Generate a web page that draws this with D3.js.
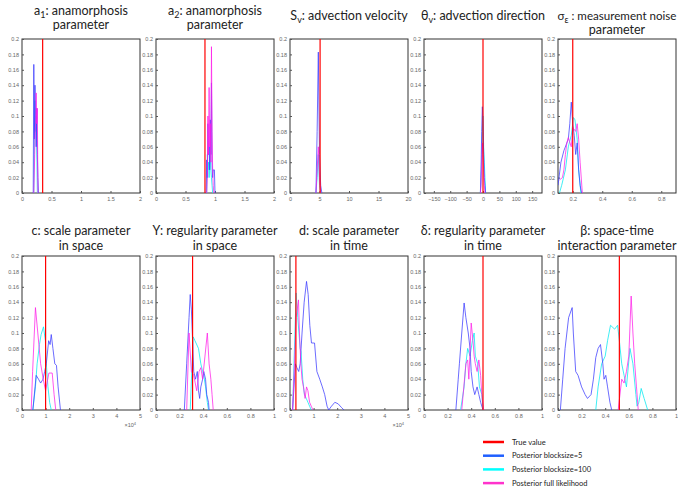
<!DOCTYPE html>
<html lang="en">
<head>
<meta charset="UTF-8">
<title>Posterior distributions</title>
<script src="https://cdn.jsdelivr.net/npm/d3@7"></script>
<style>
  body { margin: 0; background: #fff; }
  .axis text { font-family: 'Liberation Sans', Arial, sans-serif; font-size: 5.5px; fill: #666; }
  .axis line { stroke: #555; }
  .axis path { display: none; }
  .title { font-family: Lato, 'Open Sans', sans-serif; font-size: 12.5px; fill: #222; text-anchor: middle; }
  .legend text { font-family: Lato, 'Open Sans', sans-serif; font-size: 7.5px; fill: #222; }
</style>
</head>
<body>
<svg id="img" width="678" height="487"></svg>
<script>
// ---- data: [x, density] pairs ----
var a1Blue = [[0.19,0],[0.2,0.167],[0.21,0.07],[0.22,0.14],[0.23,0.1],[0.24,0.06],[0.25,0.11],[0.26,0.05],[0.27,0.02],[0.28,0]];
var a1Cyan = [[0.2,0],[0.21,0.05],[0.22,0.12],[0.23,0.08],[0.24,0.1],[0.25,0.06],[0.26,0]];
var a1Mag  = [[0.2,0],[0.21,0.03],[0.22,0.07],[0.23,0.09],[0.24,0.13],[0.25,0.09],[0.26,0.11],[0.27,0]];

var a2Blue = [[0.85,0],[0.86,0.043],[0.87,0.02],[0.88,0.09],[0.89,0.05],[0.9,0.06],[0.91,0.03],[0.92,0.095],[0.93,0.05],[0.94,0.143],[0.95,0.04],[0.96,0.02],[0.97,0.03],[0.98,0.03],[0.99,0.03],[1.0,0]];
var a2Cyan = [[0.86,0],[0.87,0.05],[0.88,0.03],[0.89,0.04],[0.9,0.02],[0.91,0.035],[0.92,0.05],[0.93,0.03],[0.94,0.02],[0.95,0.01],[0.96,0]];
var a2Mag  = [[0.86,0],[0.87,0.02],[0.88,0.1],[0.89,0.05],[0.9,0.137],[0.91,0.06],[0.92,0.09],[0.93,0.04],[0.94,0.19],[0.95,0.08],[0.96,0.03],[0.97,0.01],[0.98,0]];

var svBlue = [[4.4,0],[4.6,0.08],[4.8,0.183],[5.0,0.05],[5.2,0.01],[5.4,0]];
var svCyan = [[4.4,0],[4.6,0.02],[4.8,0.05],[5.0,0.01],[5.2,0]];
var svMag  = [[4.4,0],[4.6,0.03],[4.8,0.06],[5.0,0.02],[5.2,0]];

var thBlue = [[-8,0],[-6,0.03],[-4,0.08],[-2,0.112],[0,0.09],[2,0.05],[4,0.02],[6,0.01],[8,0]];
var thCyan = [[-8,0],[-6,0.02],[-4,0.05],[-2,0.08],[0,0.1],[2,0.06],[4,0.04],[6,0.02],[8,0]];
var thMag  = [[-8,0],[-6,0.01],[-4,0.04],[-2,0.065],[0,0.05],[2,0.03],[4,0.01],[6,0]];

var sgBlue = [[0.1,0.01],[0.12,0.04],[0.14,0.055],[0.16,0.065],[0.17,0.07],[0.18,0.09],[0.19,0.118],[0.2,0.09],[0.21,0.075],[0.22,0.05],[0.23,0.065],[0.24,0.03],[0.25,0.01],[0.26,0]];
var sgCyan = [[0.11,0],[0.125,0.01],[0.15,0.03],[0.17,0.06],[0.19,0.075],[0.205,0.098],[0.215,0.095],[0.23,0.07],[0.24,0.03],[0.255,0]];
var sgMag  = [[0.11,0.017],[0.13,0.02],[0.14,0.03],[0.15,0.05],[0.16,0.065],[0.17,0.072],[0.19,0.06],[0.2,0.085],[0.22,0.08],[0.23,0.09],[0.24,0.07],[0.25,0.04],[0.265,0]];

var cBlue = [[0.46,0],[0.6,0.045],[0.7,0.04],[0.79,0.035],[0.89,0.04],[0.96,0.05],[1.03,0.06],[1.13,0.09],[1.19,0.085],[1.24,0.098],[1.31,0.08],[1.39,0.06],[1.46,0.058],[1.53,0.03],[1.63,0]];
var cCyan = [[0.46,0],[0.57,0.03],[0.64,0.06],[0.74,0.085],[0.81,0.098],[0.91,0.108],[0.99,0.09],[1.03,0.06],[1.1,0.03],[1.17,0.01],[1.24,0]];
var cMag  = [[0.39,0],[0.45,0.05],[0.57,0.133],[0.67,0.1],[0.79,0.06],[0.9,0.04],[1.0,0.025],[1.14,0.048],[1.28,0.048],[1.36,0.02],[1.43,0]];

var gBlue = [[0.24,0],[0.26,0.06],[0.28,0.12],[0.29,0.15],[0.3,0.13],[0.31,0.09],[0.32,0.05],[0.335,0.04],[0.35,0.05],[0.36,0.025],[0.37,0.015],[0.38,0.03],[0.395,0.04],[0.405,0.05],[0.42,0.04],[0.43,0.02],[0.445,0.01],[0.45,0]];
var gCyan = [[0.29,0],[0.315,0.095],[0.33,0.09],[0.36,0.08],[0.38,0.06],[0.395,0.05],[0.405,0.045],[0.42,0.03],[0.435,0.01],[0.445,0]];
var gMag  = [[0.26,0],[0.28,0.1],[0.3,0.05],[0.32,0.045],[0.345,0.025],[0.365,0.05],[0.38,0.055],[0.395,0.04],[0.415,0.07],[0.435,0.1],[0.45,0.06],[0.465,0.04],[0.475,0.02],[0.485,0]];

var dBlue = [[0.11,0],[0.23,0.06],[0.29,0.055],[0.37,0.05],[0.43,0.06],[0.51,0.1],[0.6,0.14],[0.7,0.167],[0.77,0.15],[0.84,0.11],[0.91,0.087],[1.04,0.087],[1.14,0.05],[1.26,0.04],[1.37,0.03],[1.47,0.02],[1.57,0.005],[1.64,0],[1.76,0.005],[1.9,0.01],[2.04,0.008],[2.19,0.003],[2.29,0]];
var dCyan = [[0.11,0],[0.26,0.152],[0.33,0.12],[0.43,0.08],[0.47,0.075],[0.54,0.04],[0.61,0.02],[0.69,0.015],[0.76,0.01],[0.83,0.005],[0.9,0]];
var dMag  = [[0.11,0],[0.19,0.06],[0.26,0.12],[0.36,0.143],[0.4,0.1],[0.46,0.06],[0.51,0.04],[0.57,0.03],[0.64,0.015],[0.7,0.03],[0.76,0.025],[0.83,0.01],[0.9,0.005],[0.97,0]];

var deBlue = [[0.27,0],[0.29,0.04],[0.3,0.06],[0.32,0.1],[0.34,0.139],[0.355,0.12],[0.375,0.1],[0.39,0.08],[0.4,0.05],[0.415,0.03],[0.43,0.02],[0.45,0.03],[0.465,0.02],[0.48,0.01],[0.5,0]];
var deCyan = [[0.31,0],[0.34,0.03],[0.355,0.06],[0.37,0.08],[0.39,0.07],[0.41,0.09],[0.425,0.1],[0.435,0.07],[0.455,0.06],[0.47,0.03],[0.49,0.02],[0.5,0]];
var deMag  = [[0.32,0],[0.355,0.06],[0.37,0.065],[0.38,0.04],[0.4,0.113],[0.415,0.09],[0.425,0.07],[0.435,0.06],[0.45,0.05],[0.465,0.065],[0.48,0.045],[0.49,0.02],[0.505,0]];

var bBlue = [[0.02,0],[0.04,0.04],[0.06,0.08],[0.09,0.12],[0.12,0.133],[0.13,0.1],[0.15,0.05],[0.17,0.045],[0.2,0.03],[0.23,0.02],[0.25,0.015],[0.28,0.02],[0.3,0.04],[0.32,0.068],[0.34,0.08],[0.36,0.085],[0.38,0.06],[0.39,0.04],[0.405,0.045],[0.42,0.03],[0.44,0.01],[0.455,0]];
var bCyan = [[0.32,0],[0.34,0.03],[0.37,0.06],[0.4,0.07],[0.42,0.09],[0.445,0.11],[0.48,0.105],[0.505,0.11],[0.52,0.09],[0.54,0.06],[0.56,0.045],[0.58,0.03],[0.61,0.08],[0.635,0.06],[0.66,0.02],[0.67,0.005],[0.685,0.01],[0.705,0.028],[0.73,0.015],[0.76,0]];
var bMag  = [[0.51,0],[0.54,0.04],[0.56,0.035],[0.58,0.05],[0.6,0.07],[0.62,0.148],[0.635,0.1],[0.65,0.06],[0.665,0.03],[0.68,0]];

var trueValues = [0.35, 0.83, 5.1, 0, 0.2, 1, 0.31, 0.25, 0.5, 0.52];
var xDomains = [[0,2],[0,2],[0,20],[-180,180],[0.1,0.9],[0,5],[0,1],[0,5],[0,1],[0,1]];
var xTicks = [
  [0,0.5,1,1.5,2], [0,0.5,1,1.5,2], [0,5,10,15,20], [-150,-100,-50,0,50,100,150], [0.2,0.4,0.6,0.8],
  [0,1,2,3,4,5], [0,0.2,0.4,0.6,0.8,1], [0,1,2,3,4,5], [0,0.2,0.4,0.6,0.8,1], [0,0.2,0.4,0.6,0.8,1]
];
var yTicks = [0,0.02,0.04,0.06,0.08,0.1,0.12,0.14,0.16,0.18,0.2];
var showExp = [false,false,false,false,false,true,false,true,false,false];
// title lines: each line is a list of [text, subscript?] parts
var titles = [
  [[["a",0],["1",1],[": anamorphosis",0]], [["parameter",0]]],
  [[["a",0],["2",1],[": anamorphosis",0]], [["parameter",0]]],
  [[["S",0],["v",1],[": advection velocity",0]]],
  [[["θ",0],["v",1],[": advection direction",0]]],
  [[["σ",0],["ε",1],[" : measurement noise",0]], [["parameter",0]]],
  [[["c: scale parameter",0]], [["in space",0]]],
  [[["Υ: regularity parameter",0]], [["in space",0]]],
  [[["d: scale parameter",0]], [["in time",0]]],
  [[["δ: regularity parameter",0]], [["in time",0]]],
  [[["β: space-time",0]], [["interaction parameter",0]]]
];
var series = [
  [a1Blue,a1Cyan,a1Mag],[a2Blue,a2Cyan,a2Mag],[svBlue,svCyan,svMag],[thBlue,thCyan,thMag],[sgBlue,sgCyan,sgMag],
  [cBlue,cCyan,cMag],[gBlue,gCyan,gMag],[dBlue,dCyan,dMag],[deBlue,deCyan,deMag],[bBlue,bCyan,bMag]
];
var legendLabels = ["True value","Posterior blocksize=5","Posterior blocksize=100","Posterior full likelihood"];

// ---- layout / style ----
var svg = d3.select("#img"),
    lefts = [22, 156, 290, 424, 558],
    W = 118,
    rowTop = [39, 256],
    H = 154,
    lineColors = ["#3b3bff", "#00e8f0", "#ff1ee8"],
    legendColors = ["#ff0000", "#1f5fff", "#00ffff", "#ff33cc"];

var yScale = d3.scaleLinear().domain([0, 0.2]);

titles.forEach(function (t, i) {
    var row = Math.floor(i / 5), col = i % 5;
    var x0 = lefts[col], y0 = rowTop[row];
    var xs = d3.scaleLinear().domain(xDomains[i]).range([0, W]);
    var ys = yScale.copy().range([H, 0]);
    var g = svg.append("g").attr("transform", "translate(" + x0 + "," + y0 + ")");

    g.append("rect").attr("width", W).attr("height", H)
        .attr("fill", "#fff").attr("stroke", "#333").attr("stroke-width", 1);

    g.append("g").attr("class", "axis")
        .call(d3.axisLeft(ys).tickValues(yTicks).tickSize(-2).tickPadding(3)
            .tickFormat(function (d) { return d3.format("~g")(+d.toFixed(2)); }));

    g.append("g").attr("class", "axis").attr("transform", "translate(0," + H + ")")
        .call(d3.axisBottom(xs).tickValues(xTicks[i]).tickSize(-2).tickPadding(4)
            .tickFormat(function (d) { return d3.format("~g")(+d.toFixed(2)); }));

    if (showExp[i]) {
        var ex = g.append("text").attr("class", "axis").attr("x", W - 4).attr("y", H + 17)
            .attr("text-anchor", "end").style("font-family", "Liberation Sans, Arial")
            .style("font-size", "5.5px").style("fill", "#666").text("×10");
        ex.append("tspan").attr("dy", -2.5).style("font-size", "4px").text("4");
    }

    var clip = "clip" + i;
    g.append("clipPath").attr("id", clip).append("rect").attr("width", W).attr("height", H);
    var line = d3.line().x(function (d) { return xs(d[0]); }).y(function (d) { return ys(d[1]); });
    var order = [1, 0, 2];
    order.forEach(function (k) {
        g.append("path").attr("clip-path", "url(#" + clip + ")")
            .attr("d", line(series[i][k]))
            .attr("fill", "none").attr("stroke", lineColors[k])
            .attr("stroke-opacity", 0.75).attr("stroke-width", 1);
    });

    g.append("line")
        .attr("x1", xs(trueValues[i])).attr("x2", xs(trueValues[i]))
        .attr("y1", 0).attr("y2", H)
        .attr("stroke", "#ff0000").attr("stroke-width", 1.2);

    // title
    var cx = W / 2;
    var lineYs = t.length === 1 ? [-19] : (row === 0 && col === 4 ? [-19, -5] : [-24, -10]);
    if (row === 1) lineYs = [-21, -6];
    t.forEach(function (parts, li) {
        var tx = g.append("text").attr("class", "title").attr("x", cx).attr("y", lineYs[li]);
        if (row === 0 && col === 4 && li === 0) tx.style("font-size", "11.6px");
        parts.forEach(function (p) {
            var sp = tx.append("tspan").text(p[0]);
            if (p[1]) sp.attr("dy", 3).style("font-size", "9px");
            else if (tx.selectAll("tspan").size() > 1) sp.attr("dy", -3);
        });
    });
});

// legend
var lg = svg.append("g").attr("class", "legend");
legendLabels.forEach(function (lab, i) {
    var y = 442 + i * 13.7;
    lg.append("line").attr("x1", 483).attr("x2", 504).attr("y1", y).attr("y2", y)
        .attr("stroke", legendColors[i]).attr("stroke-width", 2.5);
    lg.append("text").attr("x", 512).attr("y", y + 2.6).text(lab);
});
</script>
</body>
</html>
